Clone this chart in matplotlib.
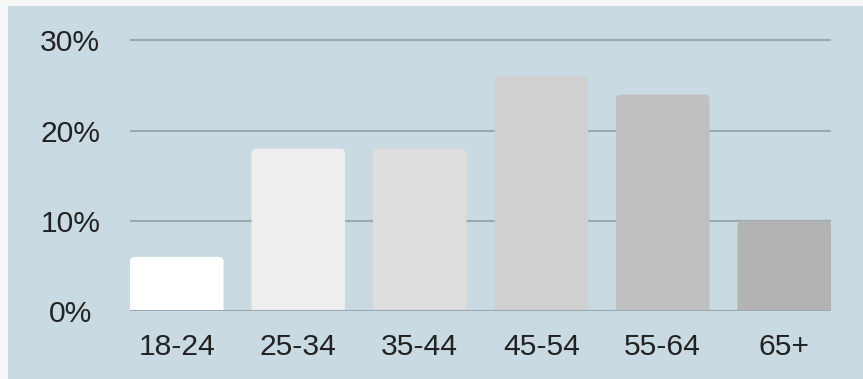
import matplotlib
matplotlib.use("Agg")
import matplotlib.pyplot as plt
from matplotlib.patches import FancyBboxPatch, Rectangle

# Share of respondents by age group (%)
age_groups = ["18-24", "25-34", "35-44", "45-54", "55-64", "65+"]
shares = [6, 18, 18, 26, 24, 10]
bar_colors = ["#ffffff", "#eeeeee", "#dedede", "#d0d0d0", "#c0c0c0", "#b3b3b3"]
y_ticks = [0, 10, 20, 30]
y_tick_labels = ["0%", "10%", "20%", "30%"]

W, H = 863, 379
fig = plt.figure(figsize=(W / 100, H / 100), dpi=100, facecolor="#f7f7f7")

# light blue panel behind the chart
fig.patches.append(Rectangle((8 / W, 0), 1 - 8 / W, (H - 6) / H,
                             transform=fig.transFigure, facecolor="#c9dae2",
                             edgecolor="none", zorder=-10))

ax = fig.add_axes([130 / W, 68 / H, (831 - 130) / W, (311 - 31.4) / H])
ax.set_zorder(5)
ax.set_facecolor("none")

bar_w = 0.77
ax.set_xlim(-bar_w / 2, len(age_groups) - 1 + bar_w / 2)
ax.set_ylim(0, 31)

for y in y_ticks:
    ax.axhline(y, color="#9aaab2", lw=1.5, zorder=1 if y else 3)

# rounded corners: radius ~5px expressed in data units on each axis
px_x = (len(age_groups) - 1 + bar_w) / (831 - 130)
px_y = 31 / (311 - 31.4)
r_x = 5 * px_x
aspect = (5 * px_y) / r_x
for i, (v, c) in enumerate(zip(shares, bar_colors)):
    p = FancyBboxPatch((i - bar_w / 2, -2), bar_w, v + 2,
                       boxstyle=f"round,pad=0,rounding_size={r_x}",
                       mutation_aspect=aspect, facecolor=c, edgecolor="none",
                       zorder=2)
    ax.add_patch(p)

ax.set_xticks(range(len(age_groups)))
ax.set_xticklabels(age_groups)
ax.set_yticks(y_ticks)
ax.set_yticklabels(y_tick_labels, ha="center")

font = dict(family=["Liberation Sans", "DejaVu Sans"], size=21.6, color="#222222")
for lab in ax.get_xticklabels() + ax.get_yticklabels():
    lab.set_fontfamily(font["family"])
    lab.set_fontsize(font["size"])
    lab.set_color(font["color"])
ax.tick_params(axis="x", length=0, pad=15.5)
ax.tick_params(axis="y", length=0, pad=43)
for s in ax.spines.values():
    s.set_visible(False)

fig.savefig("out.png", dpi=100, facecolor=fig.get_facecolor())
